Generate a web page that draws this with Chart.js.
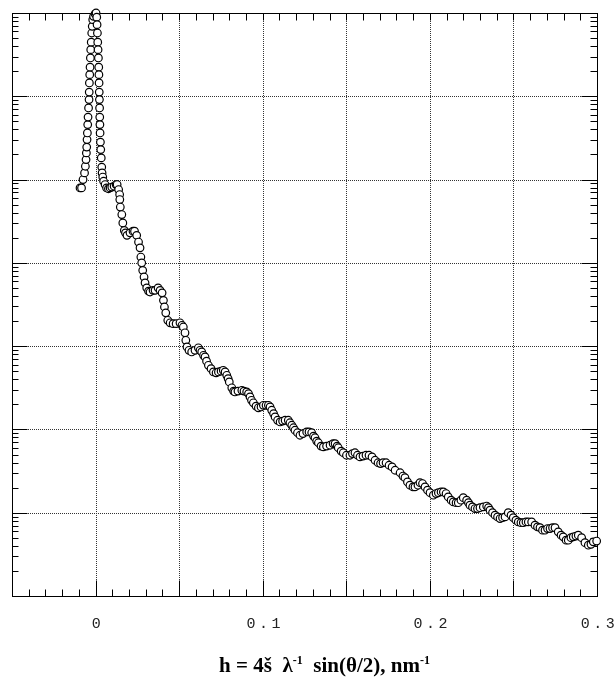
<!DOCTYPE html>
<html>
<head>
<meta charset="utf-8">
<script src="https://cdn.jsdelivr.net/npm/chart.js@4.4.1/dist/chart.umd.min.js"></script>
<style>
  html, body { margin: 0; padding: 0; background: #fff; }
  #wrap { width: 616px; height: 679px; }
</style>
</head>
<body>
<div id="wrap"><canvas id="saxsChart"></canvas></div>
<script>
// rising side of the primary peak: h (nm^-1) and log10 of intensity
const risingH = [
  -0.0093, -0.0084, -0.0075, -0.0066, -0.0061, -0.0057, -0.0055, -0.0053, -0.0051, -0.0049,
  -0.0047, -0.0045, -0.0042, -0.0039, -0.0038, -0.0037, -0.0035, -0.0033, -0.0031, -0.0029,
  -0.0026, -0.0023, -0.0020, -0.0017, -0.0012, -0.0003
];
const risingLgI = [
  4.90, 4.90, 5.00, 5.08, 5.16, 5.24, 5.32, 5.39, 5.48, 5.56,
  5.66, 5.75, 5.86, 5.96, 6.05, 6.16, 6.26, 6.35, 6.46, 6.56,
  6.65, 6.76, 6.84, 6.92, 6.96, 6.99
];

// falling side and the whole tail
const fallingH = [
  0.0003, 0.0007, 0.0009, 0.0011, 0.0013, 0.0015, 0.0017, 0.0019, 0.0020, 0.0021,
  0.0022, 0.0023, 0.0024, 0.0025, 0.0026, 0.0027, 0.0029, 0.0031, 0.0034, 0.0037,
  0.0039, 0.0043, 0.0048, 0.0057, 0.0066, 0.0077, 0.0087, 0.0097, 0.0111, 0.0123,
  0.0129, 0.0138, 0.0144, 0.0145, 0.0148, 0.0157, 0.0163, 0.0172, 0.0179, 0.0188,
  0.0206, 0.0224, 0.0233, 0.0246, 0.0257, 0.0266, 0.0271, 0.0276, 0.0282, 0.0290,
  0.0296, 0.0306, 0.0317, 0.0326, 0.0344, 0.0356, 0.0374, 0.0386, 0.0398, 0.0406,
  0.0412, 0.0420, 0.0432, 0.0446, 0.0464, 0.0482, 0.0505, 0.0517, 0.0525, 0.0535,
  0.0540, 0.0547, 0.0559, 0.0575, 0.0595, 0.0615, 0.0625, 0.0635, 0.0646, 0.0655,
  0.0664, 0.0675, 0.0691, 0.0705, 0.0721, 0.0735, 0.0751, 0.0764, 0.0775, 0.0785,
  0.0793, 0.0800, 0.0815, 0.0826, 0.0834, 0.0852, 0.0875, 0.0888, 0.0904, 0.0915,
  0.0924, 0.0933, 0.0944, 0.0960, 0.0974, 0.0990, 0.1004, 0.1020, 0.1034, 0.1044,
  0.1054, 0.1065, 0.1074, 0.1089, 0.1104, 0.1119, 0.1134, 0.1153, 0.1163, 0.1174,
  0.1184, 0.1193, 0.1208, 0.1223, 0.1241, 0.1263, 0.1277, 0.1293, 0.1304, 0.1313,
  0.1323, 0.1333, 0.1349, 0.1363, 0.1382, 0.1403, 0.1421, 0.1433, 0.1445, 0.1452,
  0.1469, 0.1482, 0.1501, 0.1522, 0.1537, 0.1552, 0.1567, 0.1582, 0.1600, 0.1618,
  0.1636, 0.1654, 0.1672, 0.1690, 0.1705, 0.1720, 0.1738, 0.1756, 0.1774, 0.1792,
  0.1822, 0.1839, 0.1851, 0.1866, 0.1881, 0.1899, 0.1911, 0.1929, 0.1941, 0.1956,
  0.1971, 0.1986, 0.2001, 0.2021, 0.2037, 0.2051, 0.2067, 0.2081, 0.2097, 0.2110,
  0.2127, 0.2140, 0.2157, 0.2170, 0.2186, 0.2200, 0.2220, 0.2231, 0.2240, 0.2255,
  0.2270, 0.2285, 0.2300, 0.2320, 0.2340, 0.2351, 0.2360, 0.2375, 0.2390, 0.2405,
  0.2420, 0.2435, 0.2450, 0.2469, 0.2486, 0.2499, 0.2515, 0.2529, 0.2545, 0.2559,
  0.2575, 0.2589, 0.2609, 0.2629, 0.2644, 0.2659, 0.2674, 0.2689, 0.2704, 0.2719,
  0.2734, 0.2749, 0.2768, 0.2785, 0.2798, 0.2815, 0.2828, 0.2844, 0.2858, 0.2874,
  0.2888, 0.2908, 0.2928, 0.2948, 0.2964, 0.2978, 0.2998
];
const fallingLgI = [
  7.00, 6.95, 6.86, 6.76, 6.65, 6.56, 6.46, 6.35, 6.26, 6.16,
  6.05, 5.96, 5.86, 5.75, 5.66, 5.56, 5.45, 5.36, 5.26, 5.15,
  5.08, 5.03, 4.98, 4.94, 4.90, 4.89, 4.90, 4.91, 4.92, 4.94,
  4.94, 4.88, 4.82, 4.76, 4.67, 4.58, 4.48, 4.39, 4.36, 4.33,
  4.36, 4.38, 4.38, 4.33, 4.25, 4.18, 4.07, 4.00, 3.91, 3.83,
  3.76, 3.70, 3.66, 3.65, 3.67, 3.67, 3.70, 3.67, 3.64, 3.55,
  3.47, 3.40, 3.31, 3.28, 3.27, 3.27, 3.28, 3.25, 3.23, 3.16,
  3.07, 2.99, 2.95, 2.93, 2.95, 2.98, 2.95, 2.93, 2.89, 2.87,
  2.82, 2.77, 2.73, 2.69, 2.68, 2.69, 2.70, 2.71, 2.69, 2.65,
  2.61, 2.57, 2.50, 2.46, 2.45, 2.46, 2.47, 2.46, 2.45, 2.43,
  2.39, 2.35, 2.32, 2.28, 2.26, 2.27, 2.29, 2.29, 2.29, 2.27,
  2.23, 2.19, 2.15, 2.11, 2.09, 2.10, 2.11, 2.11, 2.08, 2.05,
  2.02, 1.99, 1.96, 1.93, 1.95, 1.97, 1.97, 1.96, 1.92, 1.90,
  1.86, 1.84, 1.80, 1.79, 1.80, 1.81, 1.83, 1.83, 1.80, 1.78,
  1.74, 1.72, 1.69, 1.69, 1.71, 1.72, 1.69, 1.67, 1.68, 1.69,
  1.69, 1.67, 1.63, 1.60, 1.59, 1.60, 1.60, 1.57, 1.55, 1.51,
  1.48, 1.44, 1.42, 1.37, 1.33, 1.31, 1.31, 1.33, 1.36, 1.35,
  1.31, 1.27, 1.24, 1.21, 1.23, 1.24, 1.25, 1.25, 1.23, 1.19,
  1.15, 1.13, 1.12, 1.12, 1.15, 1.18, 1.15, 1.12, 1.09, 1.07,
  1.05, 1.05, 1.06, 1.07, 1.08, 1.06, 1.03, 1.00, 0.97, 0.95,
  0.93, 0.94, 0.95, 1.00, 0.97, 0.94, 0.91, 0.89, 0.88, 0.88,
  0.89, 0.89, 0.89, 0.85, 0.83, 0.82, 0.79, 0.79, 0.81, 0.81,
  0.82, 0.82, 0.77, 0.73, 0.71, 0.67, 0.67, 0.70, 0.71, 0.72,
  0.73, 0.70, 0.64, 0.61, 0.62, 0.65, 0.66
];

// axes
const xGridValues = [-0.05, 0, 0.05, 0.1, 0.15, 0.2, 0.25, 0.3];
const xTickValues = [0, 0.1, 0.2, 0.3];
const xTickLabels = ['0', '0.1', '0.2', '0.3'];
const xRange = [-0.05, 0.3];
const yRange = [1, 1e7];

const titleParts = [
  { text: 'h = 4š  λ' },
  { text: '-1', sup: true },
  { text: '  sin(θ/2), nm' },
  { text: '-1', sup: true }
];

if (risingH.length !== risingLgI.length || fallingH.length !== fallingLgI.length) {
  throw new Error('array length mismatch');
}

function toPoints(hs, lgs) {
    return hs.map((v, i) => ({ x: v, y: Math.pow(10, lgs[i]) }));
}
const points = toPoints(risingH, risingLgI).concat(toPoints(fallingH, fallingLgI));

function line(ctx, x1, y1, x2, y2) {
    ctx.beginPath();
    ctx.moveTo(x1, y1);
    ctx.lineTo(x2, y2);
    ctx.stroke();
}

// dotted grid, frame, inward tick marks and labels like the original plot
const framePlugin = {
    id: 'frame',
    beforeDatasetsDraw(chart) {
        const { ctx, chartArea: a, scales: { x, y } } = chart;
        ctx.save();
        ctx.lineWidth = 1;

        ctx.strokeStyle = '#333';
        ctx.setLineDash([1, 1]);
        xGridValues.forEach(v => {
            if (v <= xRange[0] || v >= xRange[1]) return;
            const px = Math.round(x.getPixelForValue(v)) + 0.5;
            line(ctx, px, a.top, px, a.bottom);
        });
        for (let d = 1; d < 7; d++) {
            const py = Math.round(y.getPixelForValue(Math.pow(10, d))) + 0.5;
            line(ctx, a.left, py, a.right, py);
        }
        ctx.setLineDash([]);

        ctx.strokeStyle = '#000';
        const L = Math.round(a.left) + 0.5, R = Math.round(a.right) + 0.5;
        const T = Math.round(a.top) + 0.5, B = Math.round(a.bottom) + 0.5;
        ctx.strokeRect(L, T, R - L, B - T);

        // x ticks every 0.01, longer at multiples of 0.05
        for (let k = -5; k <= 30; k++) {
            const px = Math.round(x.getPixelForValue(k / 100)) + 0.5;
            const major = k % 5 === 0;
            line(ctx, px, B, px, B - (major ? 16 : 7));
            line(ctx, px, T, px, T + 7);
        }
        // y ticks: decades and 2..9 minor
        for (let d = 0; d < 7; d++) {
            for (let m = 1; m <= 9; m++) {
                const py = Math.round(y.getPixelForValue(m * Math.pow(10, d))) + 0.5;
                const major = m === 1;
                line(ctx, L, py, L + (major ? 15 : 6), py);
                line(ctx, R, py, R - (major ? 16 : 7), py);
            }
        }

        // x tick labels
        ctx.fillStyle = '#222';
        ctx.font = '15px "Liberation Mono", "Courier New", monospace';
        ctx.textAlign = 'center';
        ctx.textBaseline = 'middle';
        ctx.letterSpacing = '3.5px';
        xTickValues.forEach((v, i) => {
            ctx.fillText(xTickLabels[i], x.getPixelForValue(v) + 2.5, a.bottom + 28.5);
        });
        ctx.restore();
    },
    afterDraw(chart) {
        const { ctx, chartArea: a } = chart;
        ctx.save();
        ctx.fillStyle = '#000';
        ctx.textAlign = 'left';
        ctx.textBaseline = 'alphabetic';
        const big = 'bold 21px "Liberation Serif", "Times New Roman", serif';
        const small = 'bold 12px "Liberation Serif", "Times New Roman", serif';
        let w = 0;
        titleParts.forEach(p => {
            ctx.font = p.sup ? small : big;
            w += ctx.measureText(p.text).width;
        });
        let cx = (a.left + a.right) / 2 + 20 - w / 2;
        const base = a.bottom + 76;
        titleParts.forEach(p => {
            ctx.font = p.sup ? small : big;
            ctx.fillText(p.text, cx, p.sup ? base - 8 : base);
            cx += ctx.measureText(p.text).width;
        });
        ctx.restore();
    }
};

const ctx = document.getElementById('saxsChart').getContext('2d');
new Chart(ctx, {
    type: 'scatter',
    data: {
        datasets: [{
            data: points,
            pointRadius: 3.8,
            pointBorderWidth: 1.2,
            pointBackgroundColor: '#fff',
            pointBorderColor: '#000',
            showLine: false,
            clip: false
        }]
    },
    options: {
        responsive: true,
        maintainAspectRatio: false,
        animation: false,
        devicePixelRatio: 1,
        layout: { padding: { left: 12, top: 13, right: 19, bottom: 83 } },
        scales: {
            x: {
                type: 'linear',
                min: xRange[0],
                max: xRange[1],
                display: false
            },
            y: {
                type: 'logarithmic',
                min: yRange[0],
                max: yRange[1],
                display: false
            }
        },
        plugins: {
            legend: { display: false },
            tooltip: { enabled: false }
        }
    },
    plugins: [framePlugin]
});
</script>
</body>
</html>
